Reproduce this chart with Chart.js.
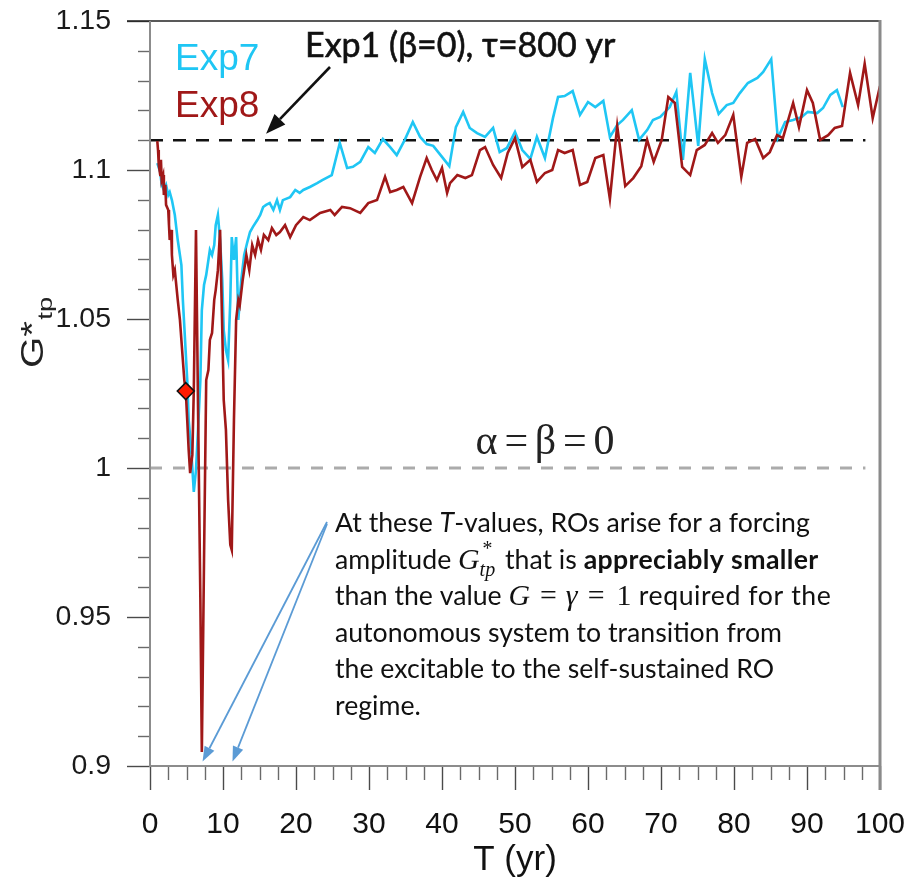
<!DOCTYPE html>
<html>
<head>
<meta charset="utf-8">
<script src="https://cdn.jsdelivr.net/npm/chart.js@4.4.1/dist/chart.umd.min.js"></script>
<style>
  html, body { margin: 0; padding: 0; background: #ffffff; }
  #wrap { width: 914px; height: 886px; position: relative; }
  canvas { display: block; }
</style>
</head>
<body>
<div id="wrap"><canvas id="chart" width="914" height="886"></canvas></div>
<script>
// ---- data -------------------------------------------------------------
// Exp7: tipping-point forcing amplitude G*_tp versus forcing period T (yr)
const exp7T = [1.0,1.4,1.6,1.9,2.2,2.5,2.7,3.0,3.4,3.8,4.3,4.5,4.8,5.1,5.3,5.6,5.9,6.0,6.3,6.6,
  6.9,7.1,7.4,7.7,8.0,8.2,8.5,8.8,9.0,9.3,9.6,9.9,10.1,10.4,10.7,11.0,11.2,11.5,11.8,12.1,
  12.5,12.9,13.3,13.7,14.1,14.7,15.1,15.5,15.9,16.4,16.9,17.4,17.8,18.2,19.2,19.9,20.5,21.0,21.9,22.9,
  23.6,24.9,26.0,27.0,27.8,28.8,29.9,30.8,31.9,32.9,33.8,34.9,36.0,37.0,37.9,38.8,40.0,41.0,41.9,42.9,
  43.8,44.8,45.9,47.0,47.9,48.9,50.0,51.0,52.1,53.0,54.1,55.2,55.9,56.8,57.9,58.9,60.0,61.0,62.1,63.0,
  64.0,64.8,66.0,67.0,68.1,68.9,69.9,71.2,72.1,73.0,74.0,75.1,76.0,77.0,77.9,79.0,79.9,80.8,81.9,83.2,
  84.0,85.1,86.0,87.0,88.1,89.3,90.1,91.4,92.2,93.2,94.1,94.9];
const exp7G = [1.1023,1.0993,1.0950,1.0933,1.0950,1.0916,1.0926,1.0899,1.0849,1.0765,
  1.0681,1.0564,1.0430,1.0295,1.0161,1.0077,0.9960,0.9920,0.9993,1.0138,
  1.0295,1.0530,1.0614,1.0648,1.0698,1.0732,1.0715,1.0748,1.0815,1.0849,
  1.0765,1.0631,1.0463,1.0396,1.0362,1.0564,1.0775,1.0698,1.0775,1.0497,
  1.0631,1.0715,1.0755,1.0792,1.0809,1.0832,1.0849,1.0876,1.0883,1.0889,
  1.0866,1.0899,1.0866,1.0899,1.0909,1.0933,1.0923,1.0933,1.0943,1.0956,
  1.0966,1.0983,1.1091,1.1007,1.1011,1.1027,1.1077,1.1057,1.1104,1.1077,
  1.1050,1.1101,1.1161,1.1111,1.1087,1.1081,1.1044,1.1013,1.1144,1.1195,
  1.1141,1.1124,1.1111,1.1141,1.1060,1.1074,1.1128,1.1067,1.1037,1.1111,
  1.1040,1.1174,1.1245,1.1248,1.1265,1.1185,1.1228,1.1211,1.1232,1.1111,
  1.1151,1.1168,1.1201,1.1101,1.1134,1.1168,1.1178,1.1211,1.1262,1.1034,
  1.1326,1.1081,1.1372,1.1258,1.1188,1.1218,1.1225,1.1258,1.1292,1.1309,
  1.1329,1.1372,1.1107,1.1161,1.1168,1.1178,1.1195,1.1191,1.1208,1.1252,
  1.1268,1.1211];

// Exp8
const exp8T = [1.0,1.1,1.2,1.4,1.5,1.6,1.8,1.9,2.1,2.2,2.5,2.6,2.7,2.9,3.0,3.2,3.4,3.6,3.8,4.1,
  4.4,4.7,4.9,5.1,5.3,5.5,5.8,6.0,6.3,6.6,6.9,7.1,7.4,7.7,8.0,8.2,8.5,8.8,9.0,9.3,
  9.6,9.9,10.1,10.4,10.7,11.0,11.2,11.5,11.8,12.1,12.3,12.7,13.2,13.6,14.0,14.4,14.8,15.2,15.6,16.2,
  16.7,17.3,17.8,18.5,19.2,20.0,21.0,21.9,23.3,24.7,25.3,26.3,27.4,28.8,29.9,31.1,32.2,32.9,33.8,34.7,
  35.9,37.0,37.9,38.6,39.3,40.0,40.7,41.1,42.1,43.2,44.1,45.2,45.9,47.0,48.1,49.0,50.0,51.0,52.1,53.0,
  54.1,55.1,55.9,56.8,57.9,58.9,59.9,61.0,62.1,63.0,64.0,65.1,66.2,67.3,68.1,69.0,70.1,71.0,71.9,72.9,
  74.0,74.9,76.0,77.0,77.8,78.8,79.9,81.0,81.8,82.9,84.0,84.9,85.9,86.7,88.1,88.9,90.0,90.8,91.8,92.9,
  93.8,94.8,95.9,97.0,97.9,99.0,100];
const exp8G = [1.1097,1.1067,1.1017,1.0983,1.1034,1.0966,1.0983,1.0916,1.0950,1.0883,
  1.0866,1.0815,1.0765,1.0799,1.0715,1.0648,1.0664,1.0614,1.0564,1.0497,
  1.0396,1.0295,1.0258,1.0161,1.0060,0.9983,1.0044,1.0262,1.0799,1.0161,
  0.9557,0.9047,0.9691,1.0295,1.0329,1.0430,1.0453,1.0564,1.0597,1.0664,
  1.0799,1.0463,1.0228,1.0128,0.9893,0.9742,0.9725,1.0161,1.0497,1.0564,
  1.0547,1.0631,1.0715,1.0664,1.0748,1.0715,1.0765,1.0732,1.0782,1.0765,
  1.0805,1.0782,1.0792,1.0815,1.0775,1.0815,1.0842,1.0832,1.0856,1.0866,
  1.0849,1.0876,1.0872,1.0856,1.0889,1.0899,1.0977,1.0926,1.0933,1.0943,
  1.0889,1.0977,1.1040,1.1000,1.0966,1.1007,1.0923,1.0956,1.0983,1.0973,
  1.0983,1.1067,1.1077,1.1017,1.0973,1.1057,1.1107,1.1010,1.1034,1.0960,
  1.0990,1.1000,1.1067,1.1057,1.1067,1.0950,1.0960,1.1040,1.1050,1.0903,
  1.1148,1.0946,1.0973,1.1013,1.1101,1.1027,1.1101,1.1245,1.1225,1.1010,
  1.0983,1.1067,1.1084,1.1124,1.1091,1.1117,1.1185,1.0977,1.1091,1.1104,
  1.1040,1.1060,1.1117,1.1107,1.1225,1.1144,1.1268,1.1225,1.1101,1.1117,
  1.1141,1.1148,1.1326,1.1218,1.1356,1.1174,1.1282];

// highlighted Exp8 point
const markerT = [4.9];
const markerG = [1.0258];

// reference levels: Exp1 (beta = 0) and the alpha = beta = 0 case
const exp1Level = 1.11;
const autonomousLevel = 1.0;
const levelSpanT = [0, 98];

// axes
const xTickLabels = ['0','10','20','30','40','50','60','70','80','90','100'];
const yTickLabels = ['0.9','0.95','1','1.05','1.1','1.15'];
const xMinorStep = 2.5;
const yMinorStep = 0.01;

// texts
const exp1Label = 'Exp1 (\u03B2=0), \u03C4=800 yr';
const autonomousLabel = '\u03B1=\u03B2=0';
const arrowTargetsT = [7.2, 11.3];

// ---- styling ----------------------------------------------------------
const CYAN = '#1fc6f4';
const DARKRED = '#a01818';
const ARROW_BLUE = '#5b9bd5';

const pts = (T, G) => T.map((t, i) => ({ x: t, y: G[i] }));

function arrow(ctx, x0, y0, x1, y1, headLen, headW, color, lw) {
  const a = Math.atan2(y1 - y0, x1 - x0);
  const bx = x1 - headLen * Math.cos(a), by = y1 - headLen * Math.sin(a);
  ctx.strokeStyle = color; ctx.fillStyle = color; ctx.lineWidth = lw;
  ctx.beginPath(); ctx.moveTo(x0, y0); ctx.lineTo(bx, by); ctx.stroke();
  ctx.beginPath();
  ctx.moveTo(x1, y1);
  ctx.lineTo(bx + headW / 2 * Math.sin(a), by - headW / 2 * Math.cos(a));
  ctx.lineTo(bx - headW / 2 * Math.sin(a), by + headW / 2 * Math.cos(a));
  ctx.closePath(); ctx.fill();
}

// frame and tick marks (major + minor), drawn outside the plot area
const frameTicks = {
  id: 'frameTicks',
  afterDatasetsDraw(chart) {
    const { ctx, chartArea: a, scales: { x, y } } = chart;
    ctx.save();
    ctx.lineCap = 'butt';
    const ny = Math.round((y.max - y.min) / yMinorStep);
    for (let i = 0; i <= ny; i++) {
      const v = y.min + i * yMinorStep;
      const py = Math.round(y.getPixelForValue(v)) + 0.5;
      const major = i % 5 === 0;
      ctx.strokeStyle = major ? '#4a4a4a' : '#6a6a6a';
      ctx.lineWidth = 1.4;
      ctx.beginPath(); ctx.moveTo(a.left - (major ? 23 : 12), py); ctx.lineTo(a.left, py); ctx.stroke();
    }
    const nx = Math.round((x.max - x.min) / xMinorStep);
    for (let i = 0; i <= nx; i++) {
      const v = x.min + i * xMinorStep;
      const px = Math.round(x.getPixelForValue(v)) + 0.5;
      const major = i % 4 === 0;
      ctx.strokeStyle = major ? '#4a4a4a' : '#6a6a6a';
      ctx.lineWidth = 1.4;
      ctx.beginPath(); ctx.moveTo(px, a.bottom); ctx.lineTo(px, a.bottom + (major ? 24 : 14)); ctx.stroke();
    }
    ctx.strokeStyle = '#222'; ctx.lineWidth = 1.5;
    ctx.beginPath(); ctx.moveTo(a.left - 23, a.top); ctx.lineTo(a.right, a.top); ctx.stroke();
    ctx.strokeStyle = '#8c8c8c'; ctx.lineWidth = 2;
    ctx.beginPath(); ctx.moveTo(a.left, a.top); ctx.lineTo(a.left, a.bottom); ctx.lineTo(a.right, a.bottom); ctx.stroke();
    ctx.strokeStyle = '#8a8a8a'; ctx.lineWidth = 3;
    ctx.beginPath(); ctx.moveTo(a.right, a.top - 1); ctx.lineTo(a.right, a.bottom + 24); ctx.stroke();
    ctx.restore();
  }
};

// labels, arrows and the explanatory note
const notes = {
  id: 'notes',
  afterDraw(chart) {
    const { ctx, scales: { x, y } } = chart;
    const ds = chart.data.datasets;
    ctx.save();
    ctx.textBaseline = 'alphabetic';
    ctx.textAlign = 'left';

    // y-axis title G*_tp (rotated, drawn slightly stretched along its length)
    ctx.save();
    ctx.translate(43, 368);
    ctx.rotate(-Math.PI / 2);
    ctx.scale(1.3, 1);
    ctx.fillStyle = '#222';
    ctx.font = '31px "Liberation Sans", Arial, sans-serif';
    ctx.fillText('G*', 0, 0);
    const gw = ctx.measureText('G*').width;
    ctx.font = '21px "Liberation Sans", Arial, sans-serif';
    ctx.fillText('tp', gw + 1, 9);
    ctx.restore();

    // series names
    ctx.font = '37px "Liberation Sans", Arial, sans-serif';
    ctx.fillStyle = CYAN; ctx.fillText(ds[2].label, 175, 70);
    ctx.fillStyle = DARKRED; ctx.fillText(ds[1].label, 175, 117);

    // Exp1 label and arrow to its level
    ctx.fillStyle = '#111';
    ctx.font = '100px Lato, "Open Sans", sans-serif';
    const s1 = 100 * 310 / ctx.measureText(exp1Label).width;
    ctx.font = s1.toFixed(1) + 'px Lato, "Open Sans", sans-serif';
    ctx.fillText(exp1Label, 305, 57);
    ctx.lineWidth = 0.6; ctx.strokeStyle = '#111';
    ctx.strokeText(exp1Label, 305, 57);
    arrow(ctx, 330, 67, x.getPixelForValue(15.9), y.getPixelForValue(1.1122), 20, 15, '#111', 2.6);

    // alpha = beta = 0 label
    ctx.fillStyle = '#222';
    ctx.font = '42px "Liberation Serif", "DejaVu Serif", serif';
    const wa = ctx.measureText(autonomousLabel).width;
    ctx.letterSpacing = ((139 - wa) / 4).toFixed(1) + 'px';
    ctx.fillText(autonomousLabel, x.getPixelForValue(44.6), y.getPixelForValue(1.0047));
    ctx.letterSpacing = '0px';

    // note paragraph
    const fams = {
      body: (s) => `${s}px Lato, "Open Sans", sans-serif`,
      ital: (s) => `italic ${s}px Lato, "Open Sans", sans-serif`,
      bold: (s) => `bold ${s}px Lato, "Open Sans", sans-serif`,
      math: (s) => `italic ${s * 1.12}px "Liberation Serif", serif`,
      mathUp: (s) => `${s * 1.12}px "Liberation Serif", serif`,
      small: (s) => `italic ${s * 0.75}px "Liberation Serif", serif`
    };
    const lines = [
      [['body', 'At these '], ['ital', 'T'], ['body', '-values, ROs arise for a forcing']],
      [['body', 'amplitude '], ['math', 'G'], ['stack', '*', 'tp'], ['body', ' that is '], ['bold', 'appreciably smaller', 235]],
      [['body', 'than the value '], ['math', 'G'], ['gap', 10], ['mathUp', '='], ['gap', 9], ['math', '\u03B3'],
       ['gap', 10], ['mathUp', '='], ['gap', 12], ['mathUp', '1'], ['body', ' required for the', 200]],
      [['body', 'autonomous system to transition from']],
      [['body', 'the excitable to the self-sustained RO']],
      [['body', 'regime.']]
    ];
    const segWidth = (seg, s) => {
      if (seg[0] === 'gap') return seg[1];
      if (seg[0] === 'stack') {
        ctx.font = fams.small(s);
        return Math.max(ctx.measureText(seg[1]).width, ctx.measureText(seg[2]).width) + 3;
      }
      ctx.font = fams[seg[0]](s);
      return ctx.measureText(seg[1]).width;
    };
    const s = 100 * 475 / lines[0].reduce((w, seg) => w + segWidth(seg, 100), 0);
    ctx.fillStyle = '#111';
    lines.forEach((line, li) => {
      let px = 335;
      const py = 532 + li * 36.6;
      for (const seg of line) {
        if (seg[0] === 'gap') { px += seg[1]; continue; }
        if (seg[0] === 'stack') {
          ctx.font = fams.small(s);
          ctx.fillText(seg[1], px + 2, py - s * 0.52);
          ctx.fillText(seg[2], px, py + s * 0.28);
          px += segWidth(seg, s);
          continue;
        }
        ctx.font = fams[seg[0]](s);
        let w = ctx.measureText(seg[1]).width;
        if (seg[2]) {
          // stretch this run to its set width
          ctx.letterSpacing = ((seg[2] - w) / seg[1].length).toFixed(2) + 'px';
          w = seg[2];
        }
        ctx.fillText(seg[1], px, py);
        ctx.letterSpacing = '0px';
        px += w;
      }
    });

    // arrows from the note to the two dips
    arrowTargetsT.forEach((t, i) => {
      arrow(ctx, 327, 522 + i * 2, x.getPixelForValue(t), y.getPixelForValue(0.9015), 15, 11, ARROW_BLUE, 1.8);
    });
    ctx.restore();
  }
};

const levelData = (g) => levelSpanT.map((t) => ({ x: t, y: g }));

new Chart(document.getElementById('chart'), {
  type: 'line',
  data: {
    datasets: [
      { label: 'marker', data: pts(markerT, markerG), showLine: false, pointStyle: 'rectRot',
        pointRadius: 8.5, pointBackgroundColor: '#ff1a00', pointBorderColor: '#111', pointBorderWidth: 1.5 },
      { label: 'Exp8', data: pts(exp8T, exp8G), borderColor: DARKRED, borderWidth: 2.6, pointRadius: 0, tension: 0 },
      { label: 'Exp7', data: pts(exp7T, exp7G), borderColor: CYAN, borderWidth: 2.6, pointRadius: 0, tension: 0 },
      { label: 'Exp1', data: levelData(exp1Level), borderColor: '#111', borderWidth: 2.4, borderDash: [13, 10], pointRadius: 0 },
      { label: 'alpha=beta=0', data: levelData(autonomousLevel), borderColor: '#ababab', borderWidth: 3, borderDash: [12, 11], pointRadius: 0 }
    ]
  },
  options: {
    responsive: false,
    devicePixelRatio: 1,
    animation: false,
    events: [],
    layout: { padding: { left: 0, right: 34, top: 21, bottom: 0 } },
    plugins: { legend: { display: false }, tooltip: { enabled: false } },
    scales: {
      x: {
        type: 'linear', min: 0, max: 100,
        afterFit: (s) => { s.height = 120; s.paddingLeft = 0; s.paddingRight = 0; },
        grid: { display: false, drawTicks: false },
        border: { display: false },
        ticks: {
          stepSize: 10, autoSkip: false, maxRotation: 0, padding: 41,
          color: '#111',
          font: { family: '"Liberation Sans Narrow", "Liberation Sans", Arial, sans-serif', size: 30 },
          callback: (v) => xTickLabels[Math.round(v / 10)]
        },
        title: {
          display: true, text: 'T (yr)', color: '#111',
          font: { family: '"Liberation Sans Narrow", "Liberation Sans", Arial, sans-serif', size: 35 },
          padding: { top: 0, bottom: 5 }
        }
      },
      y: {
        type: 'linear', min: 0.9, max: 1.15,
        afterFit: (s) => { s.width = 150; s.paddingTop = 0; s.paddingBottom = 0; },
        grid: { display: false, drawTicks: false },
        border: { display: false },
        ticks: {
          stepSize: 0.05, padding: 39, color: '#1a1a1a',
          font: { family: '"Liberation Sans", Arial, sans-serif', size: 28.5 },
          callback: (v) => yTickLabels[Math.round((v - 0.9) / 0.05)]
        }
      }
    }
  },
  plugins: [frameTicks, notes]
});
</script>
</body>
</html>
